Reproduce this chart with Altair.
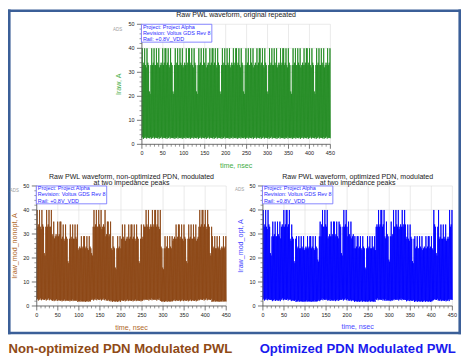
import altair as alt
import pandas as pd

FONT = "Liberation Sans"

# ---------------- values ----------------
time_ticks = [0, 50, 100, 150, 200, 250, 300, 350, 400, 450]
amp_ticks = [0, 10, 20, 30, 40, 50]
time_minor = [10, 20, 30, 40, 60, 70, 80, 90, 110, 120, 130, 140, 160, 170, 180, 190,
              210, 220, 230, 240, 260, 270, 280, 290, 310, 320, 330, 340, 360, 370, 380, 390,
              410, 420, 430, 440]
amp_minor = [2, 4, 6, 8, 12, 14, 16, 18, 22, 24, 26, 28, 32, 34, 36, 38, 42, 44, 46, 48]

# one period of the raw PWL current (one peak / one trough per switching cycle)
cycle_ns = 1.875
raw_peak = [40, 33, 34, 40, 33, 32, 40, 34, 33, 22, 21, 33, 40, 33, 34,
            40, 33, 33, 40, 34, 33, 40, 32, 33, 34, 33, 40, 33, 34, 40]
raw_trough = [2.5, 3.0, 2.3, 2.8, 2.6, 3.2, 2.4, 2.9, 2.6, 2.7]
raw_level = 33.0

# modulation envelope (segment start in ns, body level in A)
nonopt_seg_start = [0, 35, 58, 97, 129, 164, 176, 200, 255, 294, 322, 385, 416]
nonopt_seg_level = [33, 29, 28, 24, 33, 29, 24, 28, 33, 24, 28, 33, 24]
opt_seg_start = [0, 20, 43, 64, 78, 130, 138, 154, 182, 201, 215, 268, 288, 310, 338, 360, 405, 418, 443]
opt_seg_level = [33, 29, 33, 28, 24, 29, 33, 29, 33, 29, 24, 33, 29, 33, 28, 24, 33, 28, 33]

legend_lines = ["Project: Project Alpha", "Revision: Voltus GDS Rev 8", "Rail: +0.8V_VDD"]
title_top = ["Raw PWL waveform, original repeated"]
title_nonopt = ["Raw PWL waveform, non-optimized PDN, modulated", "at two impedance peaks"]
title_opt = ["Raw PWL waveform, optimized PDN, modulated", "at two impedance peaks"]
x_title = "time, nsec"
y_title_top = "Iraw, A"
y_title_nonopt = "Iraw_mod_nonopt, A"
y_title_opt = "Iraw_mod_opt, A"
caption_nonopt = "Non-optimized PDN Modulated PWL"
caption_opt = "Optimized PDN Modulated PWL"


def gain(t, starts, levels):
    g = levels[0]
    for s, l in zip(starts, levels):
        if t >= s:
            g = l
    return g / raw_level


rows = []
n_cycles = int(round(450 / cycle_ns))
for k in range(n_cycles):
    t0 = k * cycle_ns
    for t, v in ((t0, raw_trough[k % len(raw_trough)]),
                 (t0 + cycle_ns / 2, raw_peak[k % len(raw_peak)])):
        rows.append({"t": t, "raw": v,
                     "nonopt": v * gain(t, nonopt_seg_start, nonopt_seg_level),
                     "opt": v * gain(t, opt_seg_start, opt_seg_level)})
rows.append({"t": 450.0, "raw": raw_trough[0],
             "nonopt": raw_trough[0] * gain(450, nonopt_seg_start, nonopt_seg_level),
             "opt": raw_trough[0] * gain(450, opt_seg_start, opt_seg_level)})
wave = pd.DataFrame(rows)
one = pd.DataFrame({"k": [0]})
xmajor_df = pd.DataFrame({"t": time_ticks})
ymajor_df = pd.DataFrame({"a": amp_ticks})
xminor_df = pd.DataFrame({"t": time_minor})
yminor_df = pd.DataFrame({"a": amp_minor})

W, H = 456.7, 327.5   # whole framed area (pixels)
AX = "#555555"


def box(x, x2, y, y2, **mk):
    return alt.Chart(one).mark_rect(**mk).encode(
        x=alt.value(x), x2=alt.value(x2), y=alt.value(y), y2=alt.value(y2))


def label(x, y, text, **mk):
    return alt.Chart(one).mark_text(text=text, font=FONT, **mk).encode(
        x=alt.value(x), y=alt.value(y))


def panel(field, color, px0, px1, py0, py1):
    """px0/px1: pixel x of t=0/450; py0/py1: pixel y of 0 A / 50 A."""
    xs = alt.Scale(domain=[0, 450], range=[px0, px1], nice=False, zero=False)
    ys = alt.Scale(domain=[0, 50], range=[py0, py1], nice=False, zero=False)
    X = lambda f: alt.X(f, axis=None)
    Y = lambda f: alt.Y(f, axis=None)
    gx = alt.Chart(xmajor_df).mark_rule(color="#dcdcdc", strokeWidth=0.6).encode(
        x=X("t:Q"), y=alt.Y(datum=0, axis=None), y2=alt.Y2(datum=50))
    gy = alt.Chart(ymajor_df).mark_rule(color="#dcdcdc", strokeWidth=0.6).encode(
        y=Y("a:Q"), x=alt.X(datum=0, axis=None), x2=alt.X2(datum=450))
    line = alt.Chart(wave).mark_line(color=color, strokeWidth=0.85).encode(
        x=alt.X("t:Q", scale=xs, axis=None),
        y=alt.Y(field + ":Q", scale=ys, axis=None))
    xdom = alt.Chart(one).mark_rule(color=AX, strokeWidth=0.8).encode(
        x=alt.X(datum=0, axis=None), x2=alt.X2(datum=450), y=alt.Y(datum=0, axis=None))
    ydom = alt.Chart(one).mark_rule(color=AX, strokeWidth=0.8).encode(
        y=alt.Y(datum=0, axis=None), y2=alt.Y2(datum=50), x=alt.X(datum=0, axis=None))
    xtick = alt.Chart(xmajor_df).mark_rule(color=AX, strokeWidth=0.8).encode(
        x=X("t:Q"), y=alt.value(py0), y2=alt.value(py0 + 4.5))
    ytick = alt.Chart(ymajor_df).mark_rule(color=AX, strokeWidth=0.8).encode(
        y=Y("a:Q"), x=alt.value(px0 - 5), x2=alt.value(px0))
    xminor = alt.Chart(xminor_df).mark_rule(color=AX, strokeWidth=0.6).encode(
        x=X("t:Q"), y=alt.value(py0), y2=alt.value(py0 + 2.4))
    yminor = alt.Chart(yminor_df).mark_rule(color=AX, strokeWidth=0.6).encode(
        y=Y("a:Q"), x=alt.value(px0 - 2.4), x2=alt.value(px0))
    xlab = alt.Chart(xmajor_df).mark_text(font=FONT, fontSize=5.5, color="#222222",
                                         align="center", baseline="middle").encode(
        x=X("t:Q"), y=alt.value(py0 + 9.2), text=alt.Text("t:Q", format="d"))
    ylab = alt.Chart(ymajor_df).mark_text(font=FONT, fontSize=5.5, color="#222222",
                                         align="right", baseline="middle").encode(
        y=Y("a:Q"), x=alt.value(px0 - 7.5), text=alt.Text("a:Q", format="d"))
    return alt.layer(gx, gy, line, xdom, ydom, xtick, ytick, xminor, yminor, xlab, ylab)


def decorations(px0, px1, py0, py1, title_lines, title_y, ads_x, ads_y,
                ytitle, ytitle_x, xtitle_y, tcolor):
    cx = (px0 + px1) / 2
    return [
        box(px0 - 0.5, px0 + 70.5, py1, py1 + 18, fill="#ffffff", stroke="#6a6aff", strokeWidth=0.8),
        label(px0 + 1, py1 + 4.4, legend_lines, align="left", baseline="alphabetic",
              fontSize=5.5, lineHeight=6.15, color="#2a2aff"),
        label(ads_x, ads_y, "ADS", align="center", baseline="middle", fontSize=4.5, color="#a0a0a0"),
        label(cx, title_y, title_lines, align="center", baseline="alphabetic",
              fontSize=7.1, lineHeight=6.8, color="#1a1a1a"),
        label(cx, xtitle_y, x_title, align="center", baseline="middle", fontSize=7.2, color=tcolor),
        label(ytitle_x, (py0 + py1) / 2, ytitle, align="center", baseline="middle", angle=270,
              fontSize=7.2, color=tcolor),
    ]


FRAME = "#3b5f98"
fw = 2.6
frame = [
    box(0, W, 0, fw, fill=FRAME),
    box(0, W, H - fw, H, fill=FRAME),
    box(0, fw, 0, H, fill=FRAME),
    box(W - fw, W, 0, H, fill=FRAME),
]

top = panel("raw", "#228B22", 135, 325, 136, 15)
bl = panel("nonopt", "#8B4513", 29, 220, 299, 178)
br = panel("opt", "#0000FF", 257, 448, 299, 178)

deco = []
deco += decorations(135, 325, 136, 15, title_top, 7.2, 110.5, 20.7,
                    y_title_top, 112, 157.7, "#45ad45")
deco += decorations(29, 220, 299, 178, title_nonopt, 170.5, 6.5, 183,
                    y_title_nonopt, 7, 321.3, "#b0682a")
deco += decorations(257, 448, 299, 178, title_opt, 170.5, 233.5, 181.7,
                    y_title_opt, 235, 320.3, "#4a4aff")
deco += [
    label(0.5, 346.7, caption_nonopt, align="left", baseline="alphabetic",
          fontSize=13.2, fontWeight="bold", color="#8f4a16"),
    label(253.7, 346.7, caption_opt, align="left", baseline="alphabetic",
          fontSize=13.2, fontWeight="bold", color="#1a1aee"),
]

chart = (
    alt.layer(top, bl, br, *frame, *deco)
    .resolve_scale(x="independent", y="independent")
    .properties(width=W, height=H, padding=0)
    .configure_view(stroke=None)
)

chart.save("out.html", embed_options={"renderer": "svg", "actions": False})
